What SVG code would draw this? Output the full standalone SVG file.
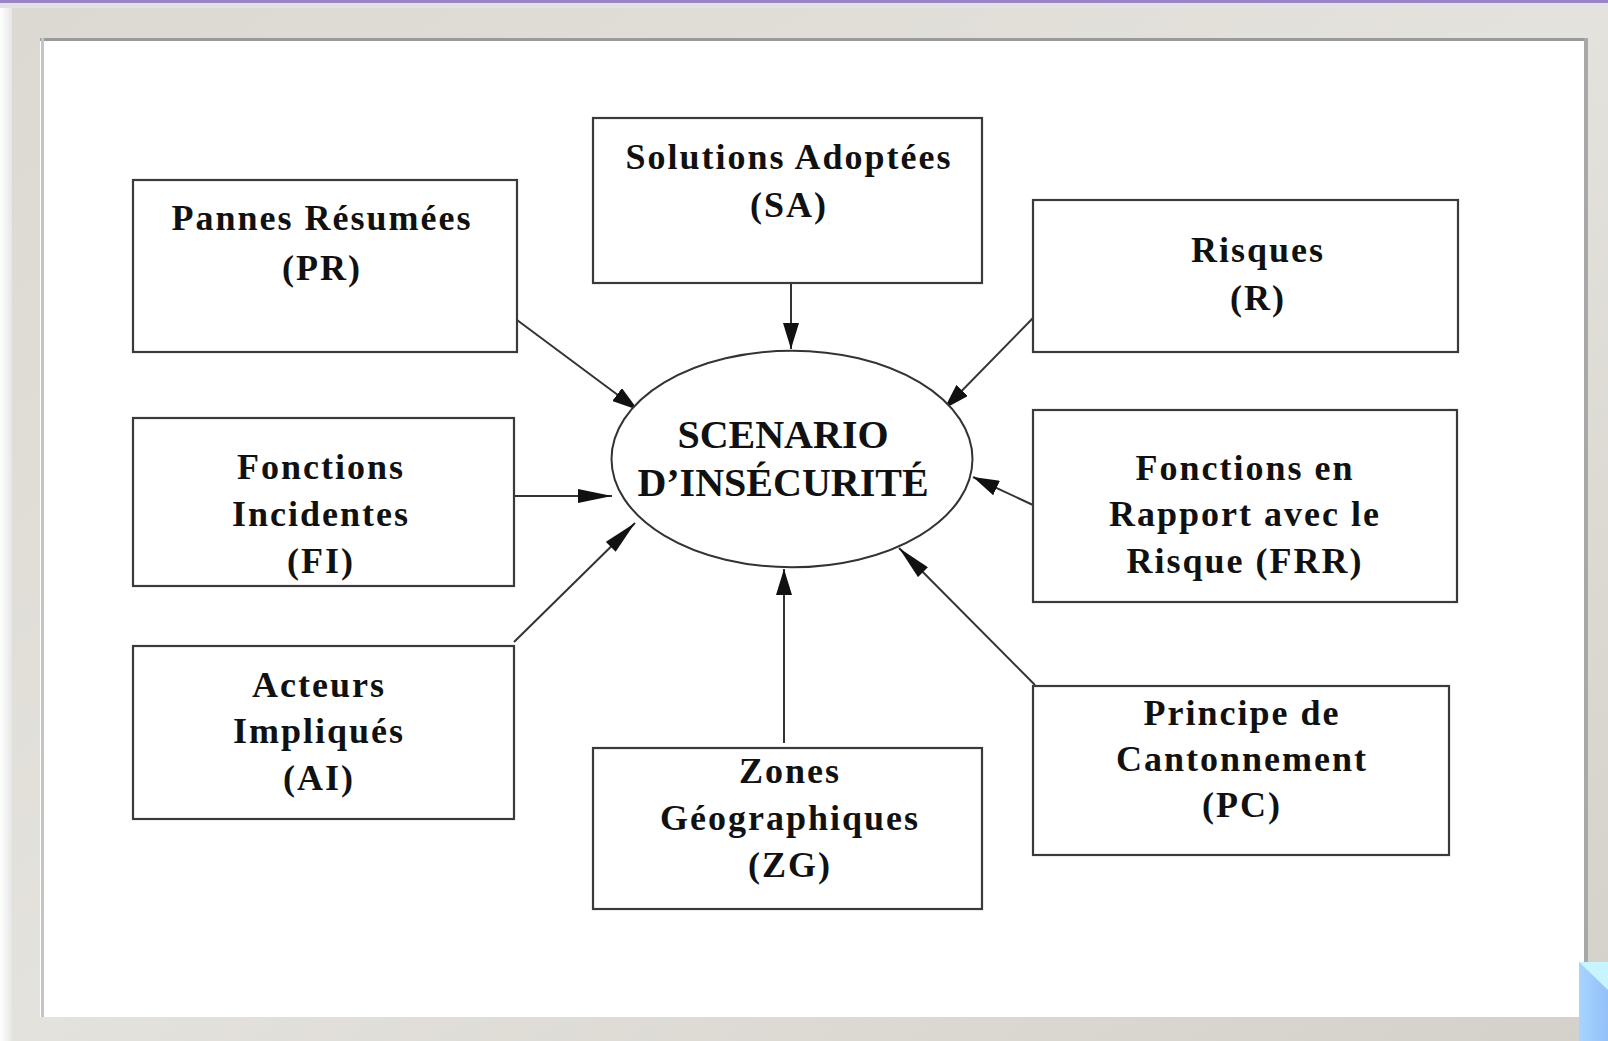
<svg xmlns="http://www.w3.org/2000/svg" width="1608" height="1041" viewBox="0 0 1608 1041">
  <defs>
    <style>
      .box { fill: #ffffff; stroke: #3a3a3a; stroke-width: 2.2; }
      .lbl { font-family: "Liberation Serif", "Times New Roman", serif; font-weight: bold; font-size: 36px; letter-spacing: 2px; fill: #111111; text-anchor: middle; }
      .title { font-family: "Liberation Serif", "Times New Roman", serif; font-weight: bold; font-size: 40px; fill: #111111; text-anchor: middle; }
      .link { stroke: #333333; stroke-width: 2; fill: none; marker-end: url(#head); }
    </style>
    <marker id="head" markerUnits="userSpaceOnUse" markerWidth="26" markerHeight="16" refX="26" refY="8" orient="auto">
      <path d="M0,0 L26,8 L0,16 Z" fill="#111111"/>
    </marker>
    <marker id="headLong" markerUnits="userSpaceOnUse" markerWidth="34" markerHeight="14" refX="34" refY="7" orient="auto">
      <path d="M0,0 L34,7 L0,14 Z" fill="#111111"/>
    </marker>
    <linearGradient id="frameGrad" x1="0" y1="0" x2="1" y2="1">
      <stop offset="0" stop-color="#dcd9d2"/>
      <stop offset="0.5" stop-color="#e4e2dc"/>
      <stop offset="1" stop-color="#d4d1ca"/>
    </linearGradient>
    <linearGradient id="blueGrad" x1="0" y1="0" x2="1" y2="0">
      <stop offset="0" stop-color="#a6d4ff"/>
      <stop offset="1" stop-color="#94c0f8"/>
    </linearGradient>
    <linearGradient id="leftShade" x1="0" y1="0" x2="1" y2="0">
      <stop offset="0" stop-color="#ffffff"/>
      <stop offset="1" stop-color="#e6e6e6"/>
    </linearGradient>
  </defs>

  <!-- window chrome and picture frame -->
  <rect x="0" y="0" width="1608" height="1041" fill="#ffffff"/>
  <rect x="0" y="0" width="12" height="1041" fill="url(#leftShade)"/>
  <rect x="0" y="0" width="1608" height="3" fill="#9a86c6"/>
  <rect x="0" y="3" width="1608" height="5" fill="#e2e0e6"/>
  <rect x="12" y="8" width="1596" height="1033" fill="url(#frameGrad)"/>
  <rect x="40" y="38" width="1546" height="979" fill="#ffffff"/>
  <rect x="40" y="38" width="1546" height="3" fill="#9a9a9a"/>
  <rect x="41" y="38" width="3" height="979" fill="#c4c4c4"/>
  <rect x="1584" y="38" width="4" height="924" fill="#a8a8a8"/>
  <rect x="1579" y="962" width="29" height="79" fill="url(#blueGrad)"/>
  <path d="M1579,962 L1608,962 L1608,990 Z" fill="#c8f4ff"/>

  <!-- connectors -->
  <g id="connectors">
    <line class="link" x1="791" y1="283" x2="791" y2="349"/>
    <line class="link" x1="517" y1="320" x2="638" y2="410"/>
    <line class="link" x1="1033" y1="318" x2="944" y2="409"/>
    <line class="link" x1="514" y1="496" x2="612" y2="496" style="marker-end:url(#headLong)"/>
    <line class="link" x1="1033" y1="505" x2="973" y2="477"/>
    <line class="link" x1="514" y1="642" x2="635" y2="523" style="marker-end:url(#headLong)"/>
    <line class="link" x1="784" y1="743" x2="784" y2="569"/>
    <line class="link" x1="1035" y1="685" x2="899" y2="548" style="marker-end:url(#headLong)"/>
  </g>

  <!-- central node -->
  <g id="scenario">
    <ellipse cx="792" cy="459" rx="180.5" ry="108.3" fill="#ffffff" stroke="#333333" stroke-width="2"/>
    <text class="title" x="783" y="448">SCENARIO</text>
    <text class="title" x="783" y="496">D’INSÉCURITÉ</text>
  </g>

  <g id="pannes-resumees">
    <rect class="box" x="133" y="180" width="384" height="172"/>
    <text class="lbl" x="322" y="230">Pannes Résumées</text>
    <text class="lbl" x="322" y="280">(PR)</text>
  </g>

  <g id="solutions-adoptees">
    <rect class="box" x="593" y="118" width="389" height="165"/>
    <text class="lbl" x="789" y="169">Solutions Adoptées</text>
    <text class="lbl" x="789" y="217">(SA)</text>
  </g>

  <g id="risques">
    <rect class="box" x="1033" y="200" width="425" height="152"/>
    <text class="lbl" x="1258" y="262">Risques</text>
    <text class="lbl" x="1258" y="310">(R)</text>
  </g>

  <g id="fonctions-incidentes">
    <rect class="box" x="133" y="418" width="381" height="168"/>
    <text class="lbl" x="321" y="479">Fonctions</text>
    <text class="lbl" x="321" y="526">Incidentes</text>
    <text class="lbl" x="321" y="573">(FI)</text>
  </g>

  <g id="fonctions-risque">
    <rect class="box" x="1033" y="410" width="424" height="192"/>
    <text class="lbl" x="1245" y="480">Fonctions en</text>
    <text class="lbl" x="1245" y="526">Rapport avec le</text>
    <text class="lbl" x="1245" y="573">Risque (FRR)</text>
  </g>

  <g id="acteurs-impliques">
    <rect class="box" x="133" y="646" width="381" height="173"/>
    <text class="lbl" x="319" y="697">Acteurs</text>
    <text class="lbl" x="319" y="743">Impliqués</text>
    <text class="lbl" x="319" y="790">(AI)</text>
  </g>

  <g id="zones-geographiques">
    <rect class="box" x="593" y="748" width="389" height="161"/>
    <text class="lbl" x="790" y="783">Zones</text>
    <text class="lbl" x="790" y="830">Géographiques</text>
    <text class="lbl" x="790" y="877">(ZG)</text>
  </g>

  <g id="principe-cantonnement">
    <rect class="box" x="1033" y="686" width="416" height="169"/>
    <text class="lbl" x="1242" y="725">Principe de</text>
    <text class="lbl" x="1242" y="771">Cantonnement</text>
    <text class="lbl" x="1242" y="817">(PC)</text>
  </g>
</svg>
